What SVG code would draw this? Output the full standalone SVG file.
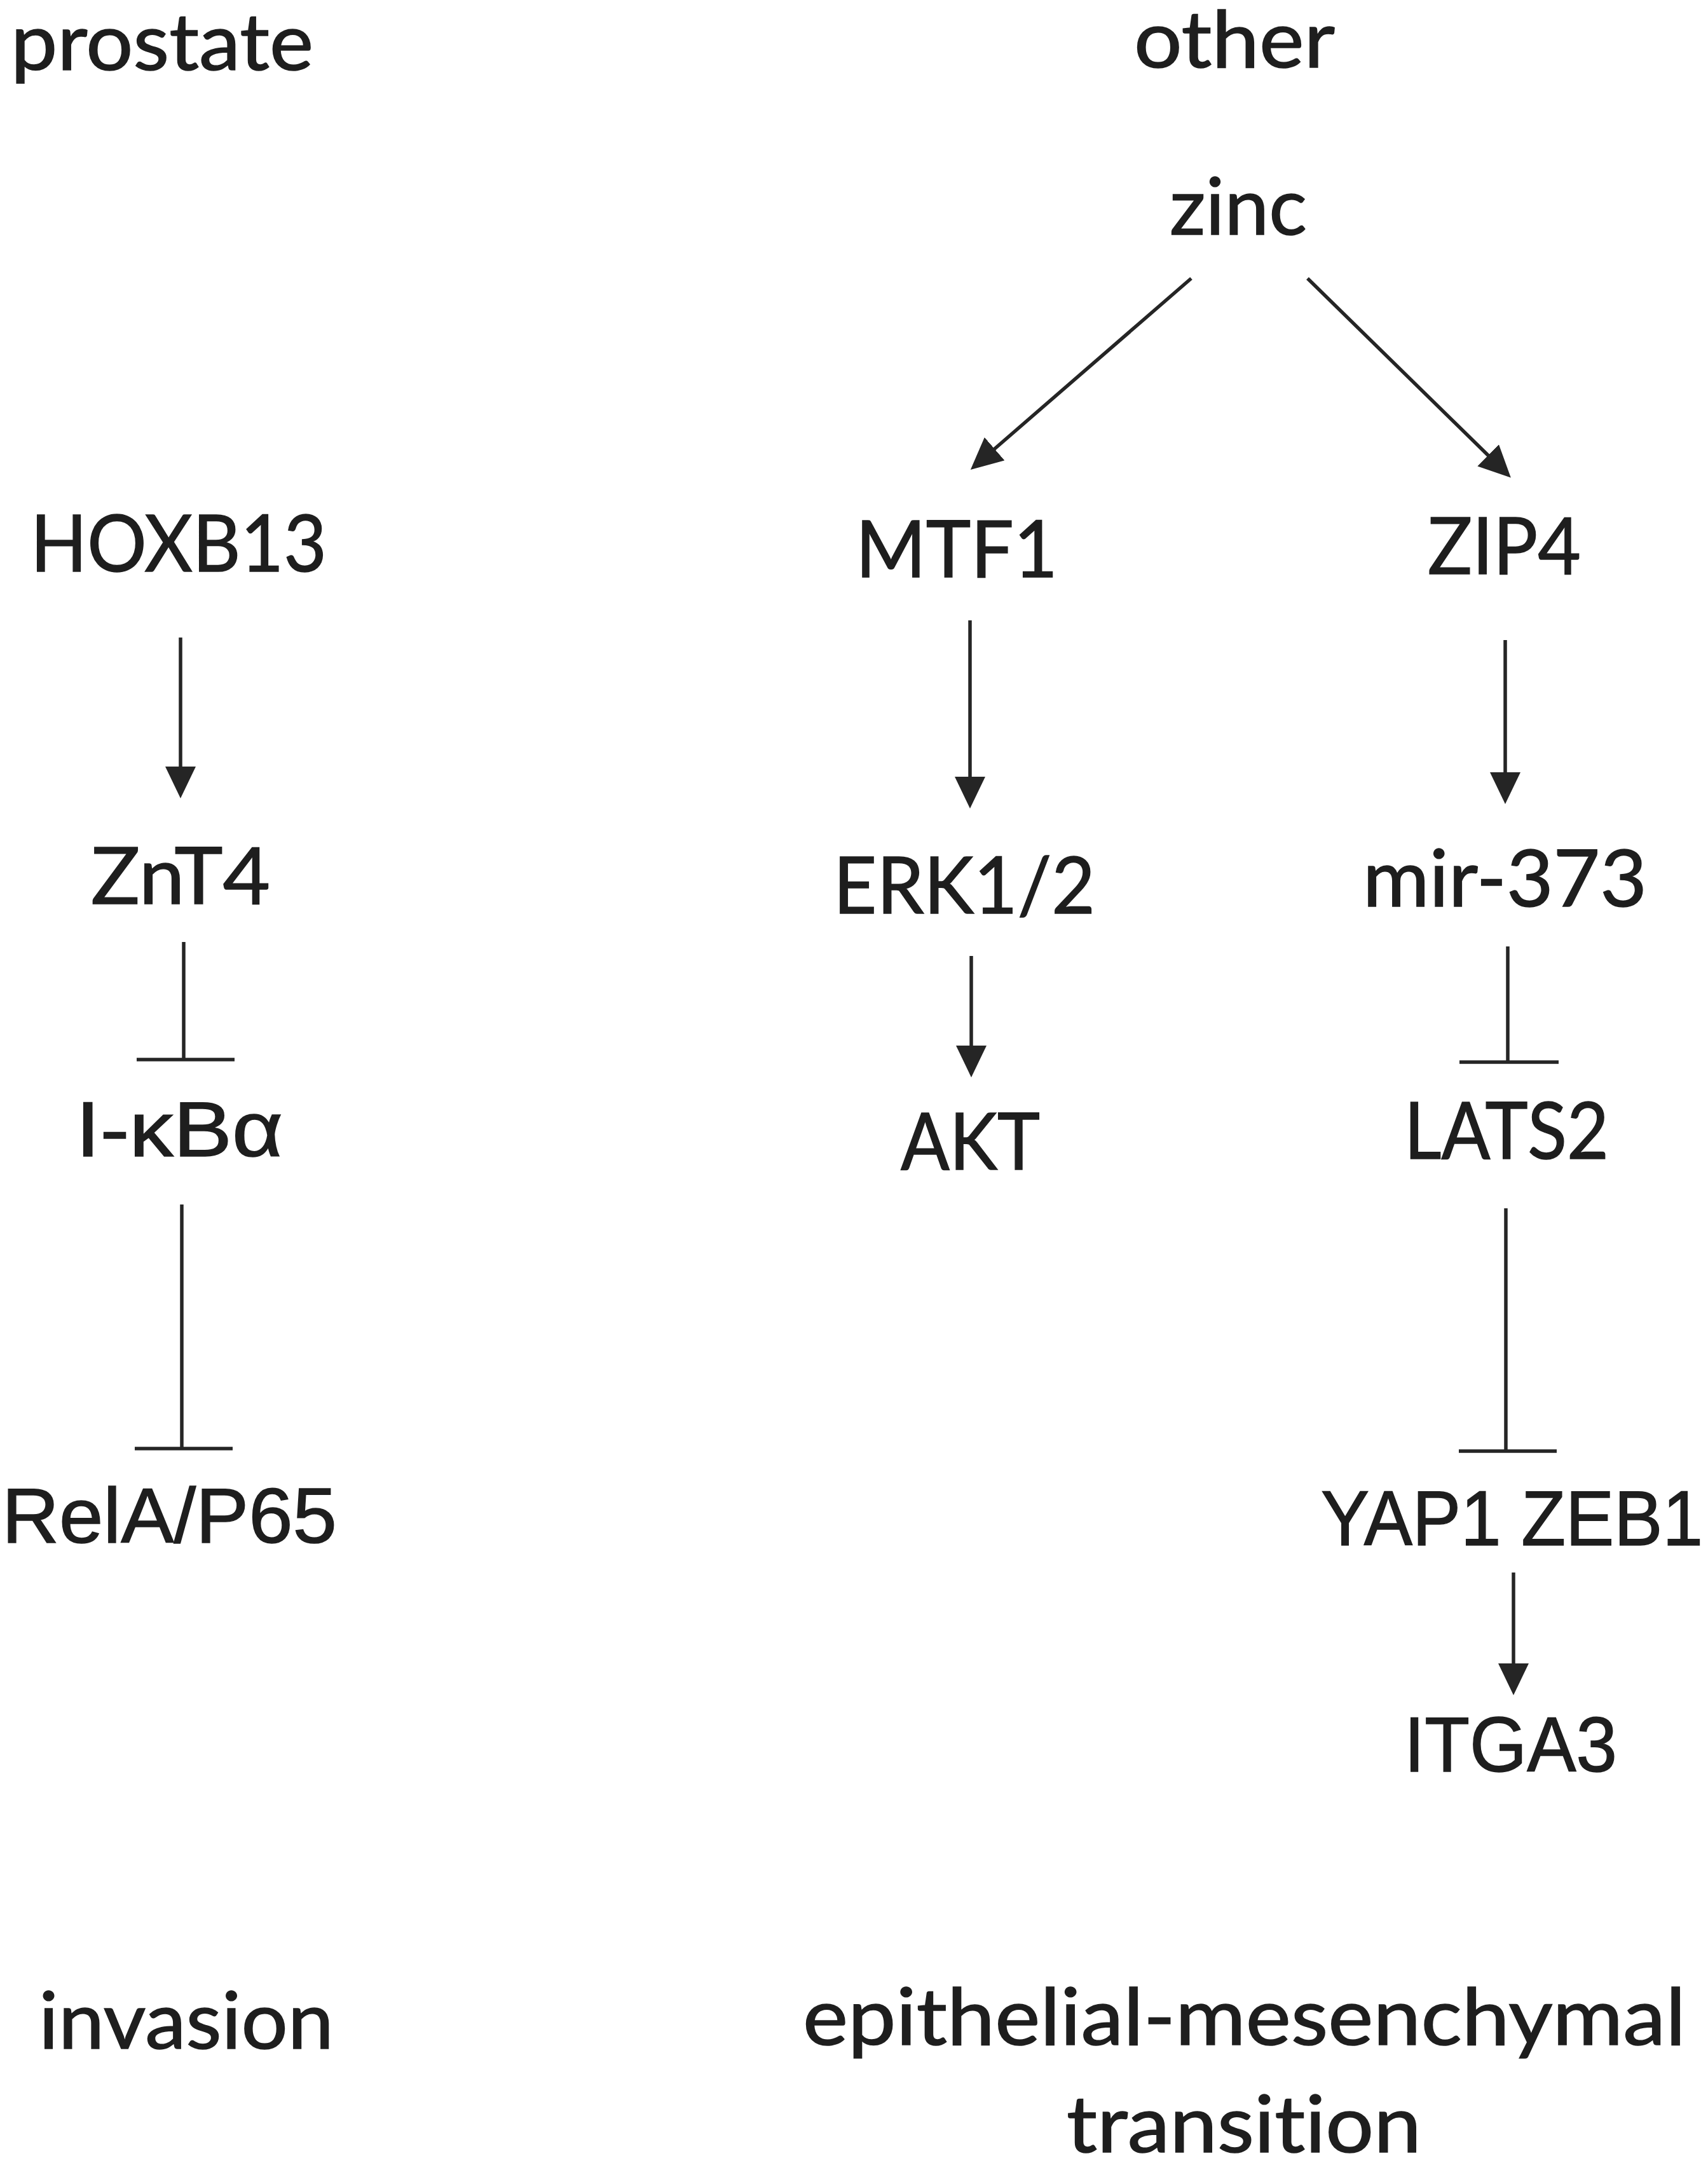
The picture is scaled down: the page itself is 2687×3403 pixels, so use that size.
<svg xmlns="http://www.w3.org/2000/svg" width="2687" height="3403" viewBox="0 0 2687 3403">
<style>
text{font-family:Lato,"Open Sans","Liberation Sans",sans-serif;font-size:125px;fill:#1e1e1e;stroke:#1e1e1e;stroke-width:1.5;font-variant-ligatures:none}
.w{font-family:"Liberation Sans","DejaVu Sans",sans-serif;font-size:122px}
.c line{stroke:#252525;stroke-width:5.5;fill:none}
.a{marker-end:url(#ah)}
</style>
<defs>
<marker id="ah" markerUnits="userSpaceOnUse" markerWidth="52" markerHeight="50" refX="18" refY="24" orient="auto">
<path d="M0,0 L50,24 L0,48 z" fill="#252525"/>
</marker>
</defs>
<rect width="2687" height="3403" fill="#fff"/>
<g id="prostate"><text x="17" y="110" textLength="476" lengthAdjust="spacingAndGlyphs">prostate</text></g>
<g id="other"><text x="1784" y="106" textLength="316" lengthAdjust="spacingAndGlyphs">other</text></g>
<g id="zinc"><text x="1840" y="369" textLength="216" lengthAdjust="spacingAndGlyphs">zinc</text></g>
<g id="HOXB13"><text x="48" y="899" textLength="466" lengthAdjust="spacingAndGlyphs">HOXB13</text></g>
<g id="MTF1"><text x="1346" y="908" textLength="318" lengthAdjust="spacingAndGlyphs">MTF1</text></g>
<g id="ZIP4"><text x="2246" y="903" textLength="241" lengthAdjust="spacingAndGlyphs">ZIP4</text></g>
<g id="ZnT4"><text x="143" y="1422" textLength="282" lengthAdjust="spacingAndGlyphs">ZnT4</text></g>
<g id="ERK12"><text x="1311" y="1437" textLength="412" lengthAdjust="spacingAndGlyphs">ERK1/2</text></g>
<g id="mir373"><text x="2144" y="1426" textLength="447" lengthAdjust="spacingAndGlyphs">mir-373</text></g>
<g id="IkBa"><text class="w" x="119" y="1819" textLength="326" lengthAdjust="spacingAndGlyphs">I-κBα</text></g>
<g id="AKT"><text x="1417" y="1840" textLength="219" lengthAdjust="spacingAndGlyphs">AKT</text></g>
<g id="LATS2"><text x="2209" y="1823" textLength="322" lengthAdjust="spacingAndGlyphs">LATS2</text></g>
<g id="RelAP65"><text class="w" x="3" y="2427" textLength="527" lengthAdjust="spacingAndGlyphs">RelA/P65</text></g>
<g id="YAP1ZEB1"><text class="w" x="2078" y="2431" textLength="601" lengthAdjust="spacingAndGlyphs">YAP1 ZEB1</text></g>
<g id="ITGA3"><text class="w" x="2209" y="2787" textLength="335" lengthAdjust="spacingAndGlyphs">ITGA3</text></g>
<g id="invasion"><text x="61" y="3223" textLength="464" lengthAdjust="spacingAndGlyphs">invasion</text></g>
<g id="emt"><text x="1263" y="3217" textLength="1389" lengthAdjust="spacingAndGlyphs">epithelial-mesenchymal</text><text x="1678" y="3386" textLength="558" lengthAdjust="spacingAndGlyphs">transition</text></g>
<g id="connectors" class="c">
<line class="a" x1="1874" y1="438" x2="1551" y2="718"/>
<line class="a" x1="2057" y1="438" x2="2354" y2="729"/>
<line class="a" x1="284" y1="1003" x2="284" y2="1224"/>
<line class="a" x1="1526" y1="976" x2="1526" y2="1240"/>
<line class="a" x1="2368" y1="1007" x2="2368" y2="1233"/>
<line class="a" x1="1528" y1="1504" x2="1528" y2="1663"/>
<line class="a" x1="2381" y1="2474" x2="2381" y2="2635"/>
<line x1="289" y1="1482" x2="289" y2="1667"/><line x1="215" y1="1667" x2="369" y2="1667"/>
<line x1="2372" y1="1489" x2="2372" y2="1671"/><line x1="2296" y1="1671" x2="2452" y2="1671"/>
<line x1="286" y1="1895" x2="286" y2="2279"/><line x1="212" y1="2279" x2="366" y2="2279"/>
<line x1="2369" y1="1901" x2="2369" y2="2283"/><line x1="2295" y1="2283" x2="2449" y2="2283"/>
</g>
</svg>
